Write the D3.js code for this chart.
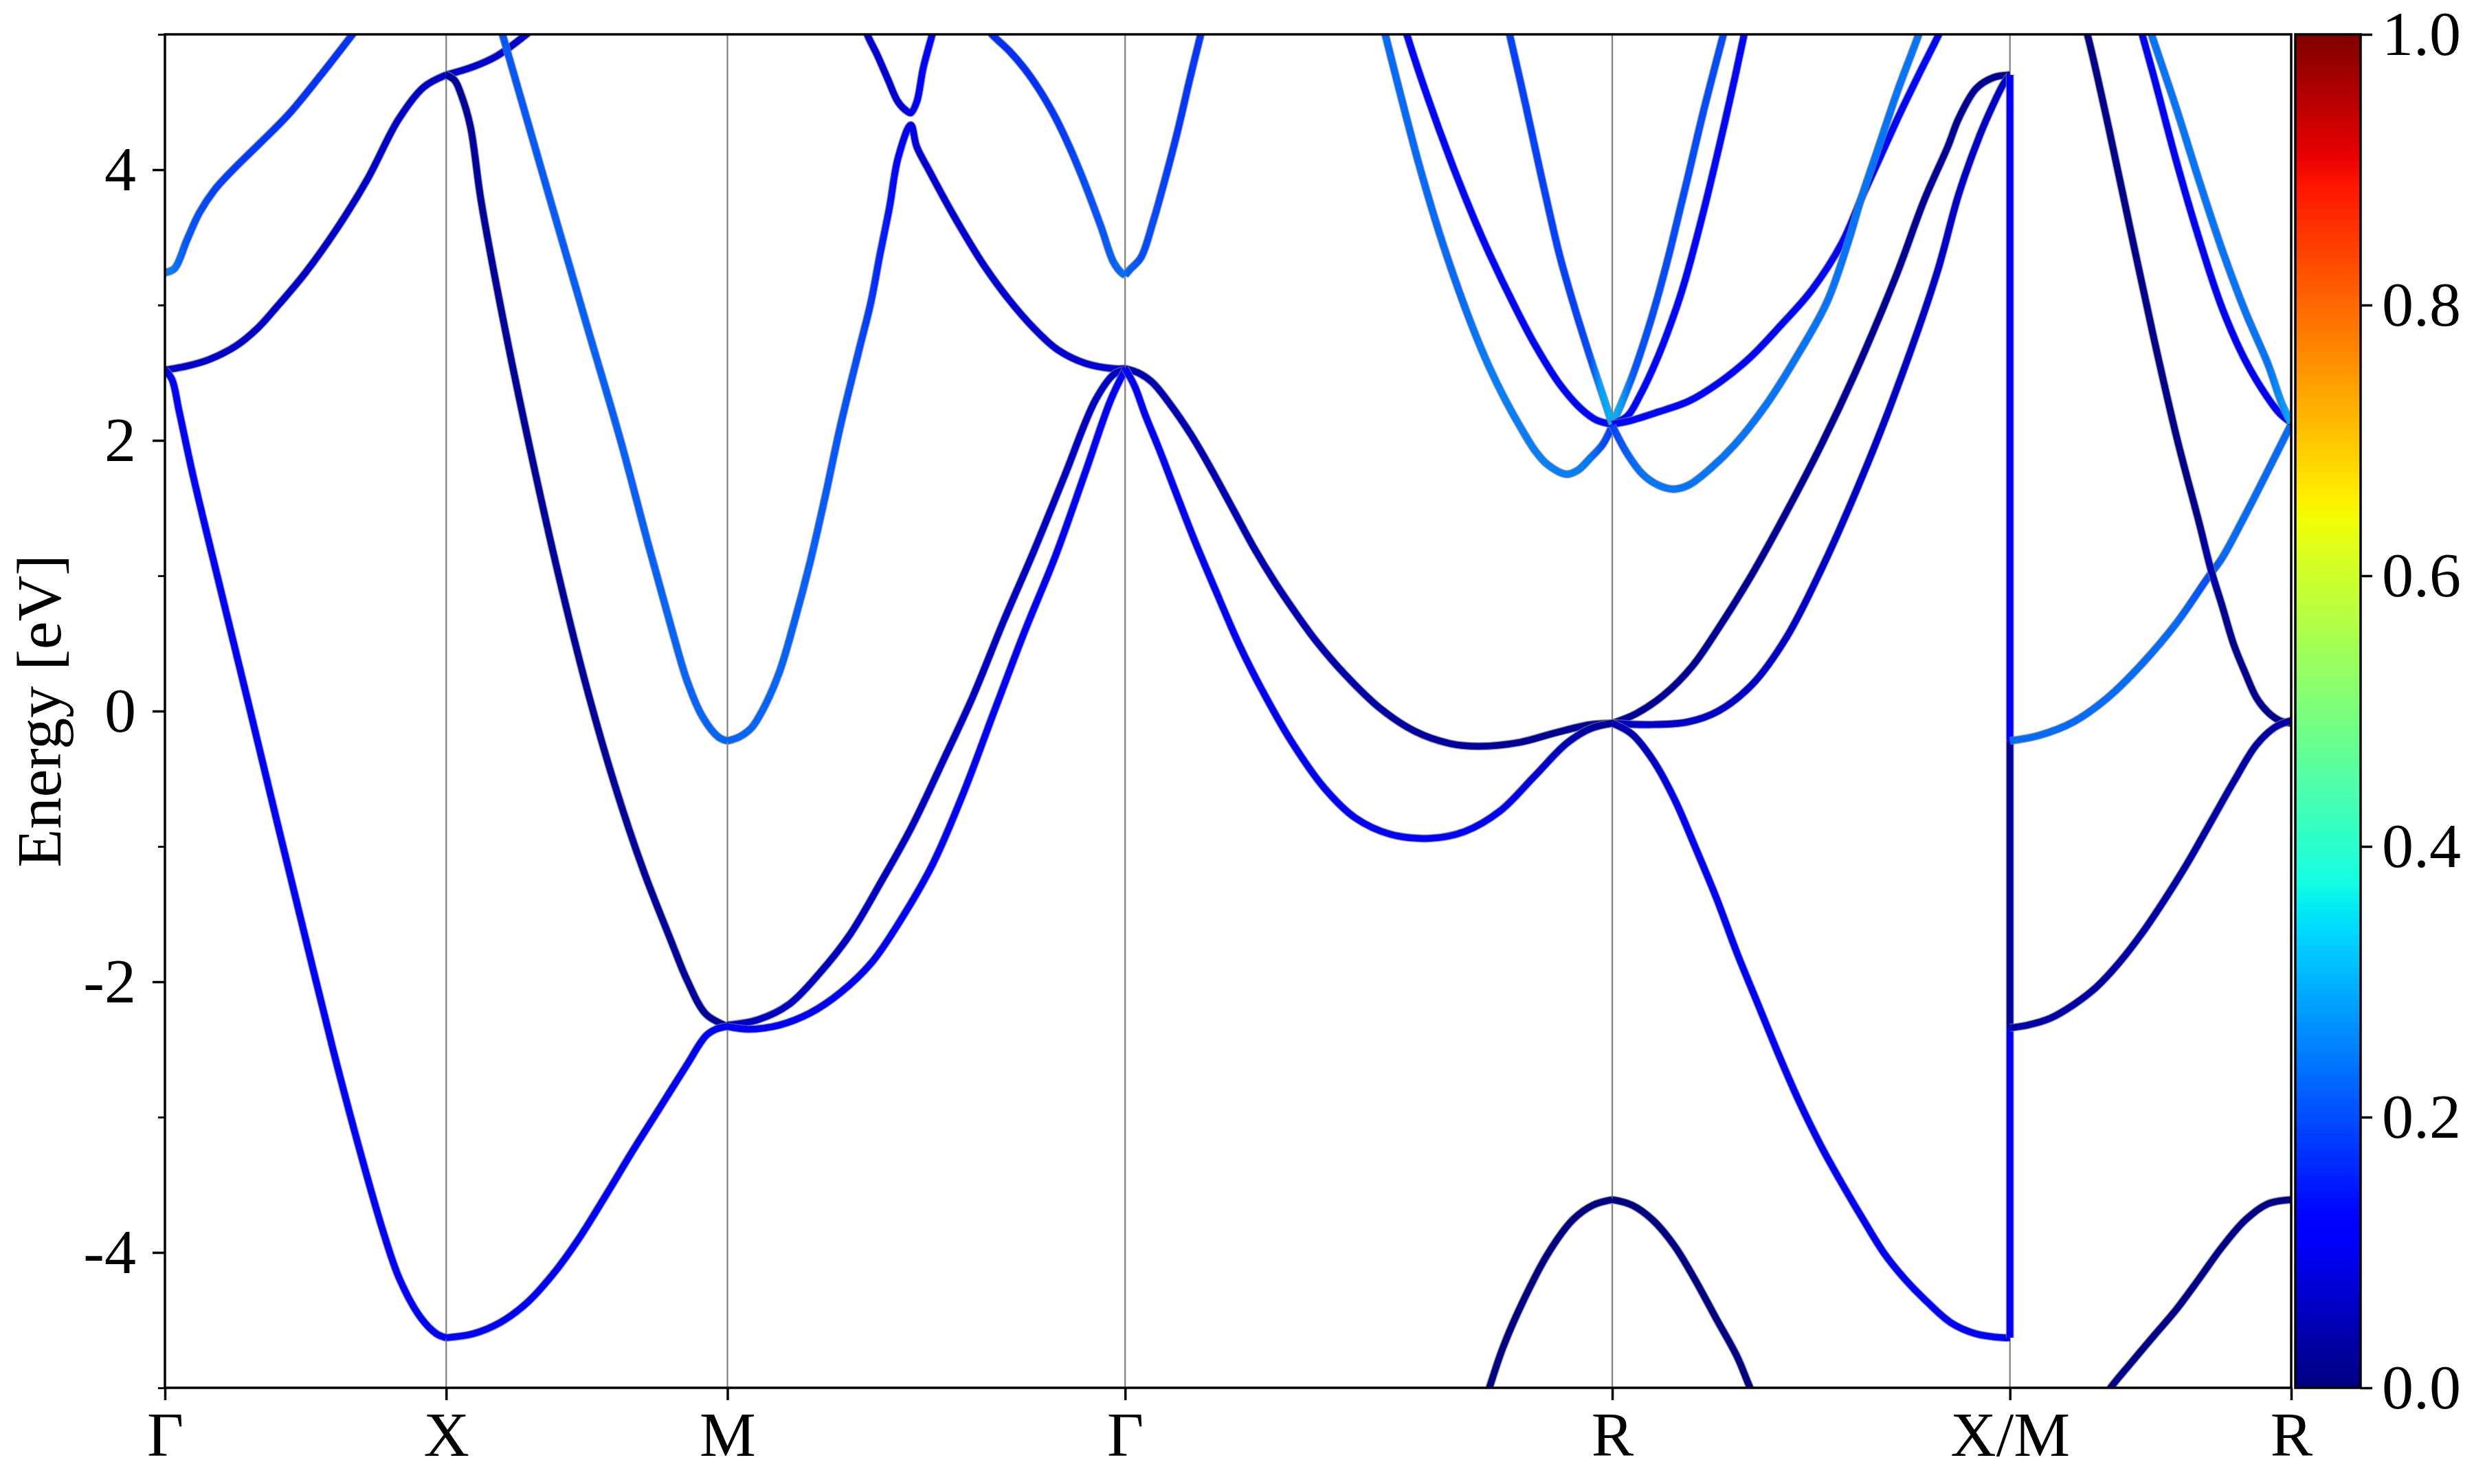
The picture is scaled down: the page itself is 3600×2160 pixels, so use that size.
<!DOCTYPE html>
<html><head><meta charset="utf-8">
<script src="https://cdn.jsdelivr.net/npm/d3@7"></script>
<style>body{margin:0;background:#fff}svg{display:block}</style>
</head><body>
<svg id="chart" width="3600" height="2160"></svg>
<script>
// ---------- data ----------
const kTickPos = [0, 1, 2, 3.414, 5.146, 6.560, 7.560];
const kTickLabels = ["Γ", "X", "M", "Γ", "R", "X/M", "R"];
const yTicksMajor = [-4, -2, 0, 2, 4];
const yTicksMinor = [-5, -3, -1, 1, 3, 5];
const cbTicks = [0, 0.2, 0.4, 0.6, 0.8, 1.0];
const eRange = [-5, 5];

// each band piece: [k, Energy (eV), weight]
// Γ -> X
const bandGX_a = [[0,3.24,0.26],[0.034,3.27,0.24],[0.078,3.48,0.21],[0.122,3.68,0.2],[0.176,3.85,0.19],[0.242,4.0,0.185],[0.34,4.2,0.18],[0.44,4.41,0.175],[0.547,4.68,0.175],[0.667,5.0,0.175],[0.70,5.09,0.175]];
const bandGX_b = [[0,2.52,0.065],[0.08,2.55,0.065],[0.16,2.60,0.065],[0.254,2.70,0.065],[0.33,2.83,0.065],[0.395,2.98,0.065],[0.5,3.24,0.065],[0.61,3.56,0.065],[0.72,3.93,0.065],[0.83,4.37,0.065],[0.92,4.61,0.065],[1.0,4.70,0.065]];
const bandGX_c = [[0,2.52,0.115],[0.025,2.45,0.115],[0.05,2.22,0.115],[0.1,1.74,0.115],[0.2,0.88,0.115],[0.3,0.03,0.115],[0.4,-0.83,0.115],[0.5,-1.68,0.115],[0.6,-2.52,0.115],[0.7,-3.3,0.115],[0.778,-3.86,0.115],[0.835,-4.2,0.115],[0.909,-4.48,0.115],[0.965,-4.6,0.115],[1.0,-4.63,0.115]];
// X -> M
const bandXM_a = [[1.0,4.70,0.07],[1.095,4.76,0.07],[1.18,4.84,0.07],[1.267,4.97,0.07],[1.295,5.02,0.07],[1.31,5.1,0.07]];
const bandXM_b = [[1.0,4.70,0.025],[1.03,4.66,0.025],[1.054,4.55,0.025],[1.086,4.32,0.025],[1.124,3.77,0.025],[1.2,2.92,0.025],[1.3,1.92,0.025],[1.4,1.0,0.025],[1.5,0.17,0.025],[1.6,-0.55,0.025],[1.7,-1.17,0.025],[1.8,-1.7,0.025],[1.857,-1.99,0.025],[1.924,-2.24,0.025],[2.0,-2.33,0.025]];
const bandXM_c = [[1.19,5.07,0.21],[1.20,5.0,0.21],[1.35,3.92,0.215],[1.50,2.85,0.22],[1.62,2.0,0.22],[1.72,1.22,0.22],[1.80,0.62,0.225],[1.857,0.22,0.225],[1.911,-0.04,0.225],[1.967,-0.19,0.225],[2.0,-0.22,0.225]];
const bandXM_d = [[1.0,-4.63,0.115],[1.097,-4.60,0.115],[1.19,-4.52,0.115],[1.283,-4.38,0.115],[1.376,-4.17,0.115],[1.471,-3.90,0.115],[1.57,-3.57,0.115],[1.66,-3.26,0.115],[1.76,-2.93,0.115],[1.857,-2.61,0.115],[1.923,-2.40,0.115],[1.96,-2.35,0.115],[2.0,-2.33,0.115]];
// M -> Γ
const bandMG_a = [[2.49,5.05,0.075],[2.499,4.99,0.075],[2.532,4.85,0.075],[2.570,4.67,0.075],[2.607,4.50,0.075],[2.640,4.43,0.08],[2.652,4.42,0.1],[2.673,4.50,0.12],[2.696,4.75,0.12],[2.727,4.99,0.12],[2.735,5.05,0.12]];
const bandMG_b = [[2.0,-0.22,0.225],[2.043,-0.19,0.225],[2.087,-0.12,0.225],[2.131,0.03,0.225],[2.185,0.29,0.225],[2.238,0.66,0.22],[2.295,1.11,0.22],[2.348,1.59,0.215],[2.402,2.11,0.21],[2.468,2.67,0.2],[2.510,3.02,0.18],[2.542,3.37,0.16],[2.576,3.72,0.14],[2.607,4.09,0.12],[2.652,4.33,0.1],[2.673,4.17,0.075],[2.718,3.99,0.075],[2.783,3.74,0.075],[2.847,3.51,0.075],[2.913,3.29,0.075],[3.001,3.04,0.075],[3.089,2.83,0.075],[3.174,2.67,0.075],[3.272,2.57,0.075],[3.372,2.53,0.075],[3.414,2.53,0.075]];
const bandMG_c = [[2.0,-2.32,0.06],[2.109,-2.28,0.06],[2.217,-2.17,0.06],[2.326,-1.94,0.06],[2.436,-1.65,0.06],[2.544,-1.27,0.06],[2.654,-0.86,0.06],[2.764,-0.38,0.06],[2.871,0.10,0.06],[2.981,0.66,0.06],[3.089,1.18,0.06],[3.199,1.74,0.06],[3.309,2.30,0.06],[3.375,2.49,0.06],[3.414,2.52,0.06]];
const bandMG_d = [[2.0,-2.33,0.115],[2.075,-2.35,0.115],[2.185,-2.32,0.115],[2.295,-2.23,0.115],[2.402,-2.08,0.115],[2.512,-1.86,0.115],[2.62,-1.53,0.115],[2.73,-1.13,0.115],[2.84,-0.60,0.115],[2.947,-0.01,0.115],[3.057,0.59,0.115],[3.167,1.15,0.115],[3.275,1.78,0.115],[3.363,2.30,0.115],[3.414,2.52,0.115]];
const bandMG_e = [[2.93,5.03,0.17],[2.94,5.0,0.17],[3.001,4.88,0.17],[3.055,4.75,0.17],[3.109,4.59,0.175],[3.165,4.39,0.18],[3.218,4.16,0.19],[3.272,3.89,0.2],[3.328,3.58,0.21],[3.372,3.32,0.22],[3.40,3.24,0.23],[3.414,3.22,0.23]];
// Γ -> R
const bandGR_a = [[3.414,3.22,0.23],[3.43,3.26,0.22],[3.470,3.35,0.2],[3.514,3.62,0.2],[3.556,3.93,0.19],[3.600,4.28,0.18],[3.644,4.67,0.18],[3.683,5.0,0.18],[3.69,5.06,0.18]];
const bandGR_b = [[3.414,2.53,0.045],[3.460,2.50,0.045],[3.510,2.43,0.045],[3.573,2.27,0.045],[3.649,2.04,0.045],[3.722,1.78,0.045],[3.798,1.49,0.045],[3.871,1.21,0.045],[3.947,0.95,0.045],[4.022,0.72,0.045],[4.096,0.51,0.045],[4.196,0.27,0.04],[4.321,0.02,0.035],[4.445,-0.15,0.03],[4.570,-0.24,0.03],[4.670,-0.26,0.025],[4.819,-0.23,0.02],[4.944,-0.16,0.02],[5.068,-0.10,0.02],[5.146,-0.09,0.02]];
const bandGR_c = [[3.414,2.53,0.12],[3.448,2.40,0.12],[3.485,2.19,0.12],[3.536,1.93,0.12],[3.597,1.60,0.12],[3.661,1.26,0.12],[3.734,0.90,0.12],[3.822,0.48,0.12],[3.910,0.12,0.12],[4.010,-0.24,0.12],[4.123,-0.57,0.12],[4.233,-0.79,0.12],[4.357,-0.91,0.12],[4.497,-0.94,0.12],[4.621,-0.89,0.12],[4.746,-0.74,0.11],[4.870,-0.48,0.08],[4.983,-0.24,0.05],[5.068,-0.13,0.03],[5.146,-0.09,0.02]];
const bandGR_d = [[4.33,5.07,0.23],[4.340,4.99,0.23],[4.39,4.58,0.23],[4.46,4.03,0.23],[4.53,3.54,0.23],[4.60,3.11,0.23],[4.656,2.80,0.24],[4.709,2.54,0.25],[4.763,2.31,0.25],[4.819,2.10,0.25],[4.873,1.92,0.25],[4.917,1.82,0.25],[4.983,1.75,0.25],[5.024,1.78,0.25],[5.068,1.87,0.24],[5.112,1.97,0.2],[5.146,2.11,0.18]];
const bandGR_e = [[4.41,5.04,0.13],[4.417,4.99,0.13],[4.487,4.55,0.13],[4.573,4.06,0.13],[4.656,3.63,0.13],[4.709,3.38,0.13],[4.797,3.0,0.13],[4.873,2.70,0.13],[4.961,2.41,0.13],[5.037,2.23,0.13],[5.090,2.15,0.13],[5.146,2.12,0.13]];
const bandGR_f = [[4.775,5.05,0.19],[4.782,4.99,0.19],[4.839,4.47,0.19],[4.880,4.08,0.19],[4.922,3.69,0.19],[4.961,3.35,0.19],[5.015,2.96,0.19],[5.068,2.61,0.2],[5.103,2.39,0.28],[5.146,2.12,0.3]];
const bandGR_g = [[4.70,-5.05,0.005],[4.704,-5.03,0.005],[4.756,-4.71,0.005],[4.829,-4.36,0.005],[4.917,-4.01,0.005],[5.005,-3.76,0.005],[5.078,-3.65,0.005],[5.146,-3.61,0.005]];
// R -> X
const bandRX_a = [[5.146,2.12,0.3],[5.178,2.27,0.28],[5.222,2.50,0.21],[5.288,2.92,0.2],[5.322,3.17,0.2],[5.357,3.45,0.2],[5.386,3.70,0.2],[5.413,3.93,0.2],[5.469,4.42,0.2],[5.540,4.99,0.2],[5.55,5.07,0.2]];
const bandRX_b = [[5.146,2.12,0.13],[5.200,2.18,0.13],[5.244,2.33,0.13],[5.309,2.62,0.13],[5.374,2.98,0.13],[5.406,3.19,0.13],[5.469,3.68,0.13],[5.526,4.17,0.13],[5.582,4.68,0.13],[5.610,4.95,0.13],[5.62,5.05,0.13]];
const bandRX_c = [[5.146,2.12,0.12],[5.200,2.14,0.13],[5.309,2.21,0.13],[5.418,2.29,0.13],[5.528,2.43,0.13],[5.635,2.61,0.13],[5.745,2.85,0.13],[5.855,3.11,0.13],[5.963,3.46,0.13],[6.03,3.78,0.13],[6.10,4.10,0.13],[6.17,4.42,0.13],[6.24,4.72,0.13],[6.305,4.99,0.13],[6.32,5.06,0.13]];
const bandRX_d = [[5.146,2.11,0.19],[5.200,1.90,0.22],[5.254,1.75,0.24],[5.309,1.67,0.24],[5.364,1.64,0.24],[5.418,1.67,0.24],[5.494,1.79,0.24],[5.582,1.97,0.24],[5.692,2.26,0.24],[5.799,2.61,0.24],[5.909,3.02,0.24],[5.987,3.48,0.24],[6.03,3.78,0.24],[6.09,4.15,0.24],[6.16,4.58,0.24],[6.234,4.99,0.24],[6.245,5.06,0.24]];
const bandRX_e = [[5.146,-0.09,0.02],[5.23,-0.02,0.02],[5.33,0.12,0.02],[5.43,0.33,0.02],[5.52,0.60,0.02],[5.64,1.0,0.02],[5.76,1.45,0.02],[5.89,1.97,0.02],[6.01,2.5,0.02],[6.156,3.22,0.02],[6.256,3.78,0.02],[6.339,4.17,0.02],[6.378,4.38,0.02],[6.44,4.60,0.02],[6.50,4.68,0.02],[6.56,4.70,0.02]];
const bandRX_f = [[5.146,-0.09,0.065],[5.278,-0.10,0.065],[5.415,-0.08,0.065],[5.523,0.0,0.065],[5.645,0.2,0.065],[5.767,0.55,0.065],[5.89,1.05,0.065],[6.012,1.62,0.065],[6.134,2.25,0.065],[6.298,3.22,0.065],[6.378,3.82,0.065],[6.452,4.25,0.065],[6.50,4.48,0.065],[6.536,4.63,0.065],[6.56,4.70,0.065]];
const bandRX_g = [[5.146,-0.09,0.04],[5.216,-0.17,0.04],[5.290,-0.36,0.06],[5.367,-0.65,0.1],[5.440,-1.0,0.115],[5.516,-1.38,0.115],[5.590,-1.79,0.115],[5.665,-2.17,0.115],[5.740,-2.55,0.115],[5.814,-2.90,0.115],[5.890,-3.22,0.115],[5.965,-3.50,0.115],[6.039,-3.76,0.115],[6.114,-4.01,0.115],[6.188,-4.20,0.115],[6.263,-4.36,0.115],[6.351,-4.52,0.115],[6.438,-4.60,0.115],[6.537,-4.63,0.115],[6.560,-4.63,0.115]];
const bandRX_h = [[5.146,-3.61,0.005],[5.216,-3.65,0.005],[5.290,-3.76,0.005],[5.367,-3.95,0.005],[5.440,-4.20,0.005],[5.516,-4.49,0.005],[5.590,-4.77,0.005],[5.628,-4.96,0.005],[5.646,-5.05,0.005]];
// jump at X/M
const bandJump_a = [[6.56,4.70,0.12],[6.56,-0.22,0.12]];
const bandJump_b = [[6.56,-0.22,0.03],[6.56,-2.34,0.03]];
const bandJump_c = [[6.56,-2.34,0.12],[6.56,-4.63,0.12]];
// M -> R
const bandMR_a = [[6.560,-0.22,0.23],[6.663,-0.18,0.23],[6.786,-0.08,0.23],[6.908,0.10,0.23],[7.030,0.35,0.23],[7.152,0.65,0.23],[7.265,0.99,0.2],[7.314,1.13,0.23],[7.397,1.45,0.23],[7.478,1.78,0.23],[7.560,2.12,0.23]];
const bandMR_b = [[6.825,5.06,0.01],[6.835,5.0,0.01],[6.908,4.34,0.01],[6.989,3.55,0.01],[7.070,2.77,0.01],[7.152,2.03,0.01],[7.234,1.38,0.01],[7.274,1.05,0.05],[7.314,0.78,0.015],[7.356,0.49,0.015],[7.397,0.28,0.015],[7.436,0.10,0.015],[7.478,-0.01,0.015],[7.519,-0.07,0.015],[7.560,-0.09,0.015]];
const bandMR_c = [[7.02,5.08,0.12],[7.030,5.0,0.12],[7.070,4.70,0.12],[7.152,4.06,0.12],[7.234,3.48,0.12],[7.314,2.98,0.12],[7.397,2.59,0.12],[7.478,2.31,0.12],[7.519,2.20,0.12],[7.560,2.13,0.12]];
const bandMR_d = [[7.055,5.05,0.24],[7.063,5.0,0.24],[7.152,4.45,0.24],[7.234,3.91,0.24],[7.314,3.41,0.24],[7.397,2.95,0.24],[7.478,2.56,0.24],[7.527,2.27,0.27],[7.560,2.13,0.3]];
const bandMR_e = [[6.560,-2.34,0.035],[6.623,-2.32,0.035],[6.703,-2.27,0.035],[6.786,-2.17,0.035],[6.867,-2.04,0.035],[6.948,-1.86,0.035],[7.030,-1.64,0.035],[7.111,-1.39,0.035],[7.192,-1.12,0.035],[7.274,-0.82,0.035],[7.356,-0.52,0.035],[7.436,-0.25,0.035],[7.502,-0.12,0.035],[7.560,-0.07,0.035]];
const bandMR_f = [[6.89,-5.12,0.01],[6.908,-5.03,0.01],[6.989,-4.82,0.01],[7.070,-4.62,0.01],[7.152,-4.42,0.01],[7.234,-4.19,0.01],[7.314,-3.96,0.01],[7.397,-3.76,0.01],[7.478,-3.64,0.01],[7.560,-3.61,0.01]];

const bandList = [
  bandGX_a, bandGX_b, bandGX_c,
  bandXM_a, bandXM_b, bandXM_c, bandXM_d,
  bandMG_a, bandMG_b, bandMG_c, bandMG_d, bandMG_e,
  bandGR_a, bandGR_b, bandGR_c, bandGR_d, bandGR_e, bandGR_f, bandGR_g,
  bandRX_a, bandRX_b, bandRX_c, bandRX_d, bandRX_e, bandRX_f, bandRX_g, bandRX_h,
  bandJump_a, bandJump_b, bandJump_c,
  bandMR_a, bandMR_b, bandMR_c, bandMR_d, bandMR_e, bandMR_f
];

// ---------- jet colormap ----------
const jr = d3.scaleLinear().domain([0,0.35,0.66,0.89,1]).range([0,0,1,1,0.5]).clamp(true);
const jg = d3.scaleLinear().domain([0,0.125,0.375,0.64,0.91,1]).range([0,0,1,1,0,0]).clamp(true);
const jb = d3.scaleLinear().domain([0,0.11,0.34,0.65,1]).range([0.5,1,1,0,0]).clamp(true);
const jet = t => d3.rgb(255*jr(t), 255*jg(t), 255*jb(t)).formatHex();

// ---------- layout ----------
const svg = d3.select("#chart");
const L = 240, R = 3334, T = 50, B = 2020;
const FONT = "'Liberation Serif','Times New Roman',Times,serif";
const FS = 92;
const x = d3.scaleLinear().domain([kTickPos[0], kTickPos[kTickPos.length-1]]).range([L, R]);
const y = d3.scaleLinear().domain(eRange).range([B, T]);

const defs = svg.append("defs");
defs.append("clipPath").attr("id","plotclip").append("rect")
  .attr("x",L).attr("y",T).attr("width",R-L).attr("height",B-T);

// vertical high-symmetry lines
svg.append("g").selectAll("line").data(kTickPos.slice(1,-1)).join("line")
  .attr("x1",d=>x(d)).attr("x2",d=>x(d)).attr("y1",T).attr("y2",B)
  .attr("stroke","#808080").attr("stroke-width",2.2);

// bands
const gB = svg.append("g").attr("clip-path","url(#plotclip)");
const line = d3.line().x(d=>x(d[0])).y(d=>y(d[1])).curve(d3.curveCatmullRom.alpha(0.5));
const vline = d3.line().x(d=>x(d[0])).y(d=>y(d[1]));
bandList.forEach((band, i) => {
  const vertical = band[0][0] === band[band.length-1][0];
  let stroke;
  if (vertical) {
    stroke = jet(band[0][2]);
  } else {
    const x1 = x(band[0][0]), x2 = x(band[band.length-1][0]);
    const grad = defs.append("linearGradient").attr("id","bg"+i)
      .attr("gradientUnits","userSpaceOnUse").attr("x1",x1).attr("x2",x2).attr("y1",0).attr("y2",0);
    band.forEach(p => grad.append("stop").attr("offset",(x(p[0])-x1)/(x2-x1)).attr("stop-color",jet(p[2])));
    stroke = `url(#bg${i})`;
  }
  const d = vertical ? vline(band) : line(band);
  gB.append("path").attr("d",d).attr("fill","none").attr("stroke","#7a7a7a")
    .attr("stroke-width",12).attr("stroke-linejoin","round").attr("stroke-opacity",0.75);
  gB.append("path").attr("d",d).attr("fill","none").attr("stroke",stroke)
    .attr("stroke-width",9.5).attr("stroke-linejoin","round");
});

// axes
const yAxis = svg.append("g").attr("transform",`translate(${L},0)`)
  .call(d3.axisLeft(y).tickValues(yTicksMajor).tickFormat(d=>String(d)).tickSize(18).tickPadding(24));
const yMinor = svg.append("g").attr("transform",`translate(${L},0)`)
  .call(d3.axisLeft(y).tickValues(yTicksMinor).tickFormat("").tickSize(10));
const xAxis = svg.append("g").attr("transform",`translate(0,${B})`)
  .call(d3.axisBottom(x).tickValues(kTickPos).tickFormat((d,i)=>kTickLabels[i]).tickSize(18).tickPadding(16));
[yAxis, yMinor, xAxis].forEach(g => {
  g.select(".domain").remove();
  g.selectAll(".tick line").attr("stroke","#000").attr("stroke-width",3.5);
  g.selectAll("text").attr("font-family",FONT).attr("font-size",FS).attr("fill","#000");
});
yMinor.selectAll(".tick line").attr("stroke-width",2.8);

// frame
svg.append("rect").attr("x",L).attr("y",T).attr("width",R-L).attr("height",B-T)
  .attr("fill","none").attr("stroke","#000").attr("stroke-width",3.5);

// y label
svg.append("text").attr("transform",`translate(88,${(T+B)/2}) rotate(-90)`)
  .attr("text-anchor","middle").attr("font-family",FONT).attr("font-size",FS).text("Energy [eV]");

// colorbar
const CBL = 3340, CBR = 3435;
const cb = d3.scaleLinear().domain([0,1]).range([B, T]);
const cgrad = defs.append("linearGradient").attr("id","cbgrad").attr("x1",0).attr("x2",0).attr("y1",1).attr("y2",0);
d3.range(0, 1.0001, 0.01).forEach(t => cgrad.append("stop").attr("offset",t).attr("stop-color",jet(t)));
svg.append("rect").attr("x",CBL).attr("y",T).attr("width",CBR-CBL).attr("height",B-T)
  .attr("fill","url(#cbgrad)").attr("stroke","#000").attr("stroke-width",3.5);
const cbAxis = svg.append("g").attr("transform",`translate(${CBR},0)`)
  .call(d3.axisRight(cb).tickValues(cbTicks).tickFormat(d3.format(".1f")).tickSize(17).tickPadding(14));
cbAxis.select(".domain").remove();
cbAxis.selectAll(".tick line").attr("stroke","#000").attr("stroke-width",3.5);
cbAxis.selectAll("text").attr("font-family",FONT).attr("font-size",FS).attr("fill","#000");
</script>
</body></html>
